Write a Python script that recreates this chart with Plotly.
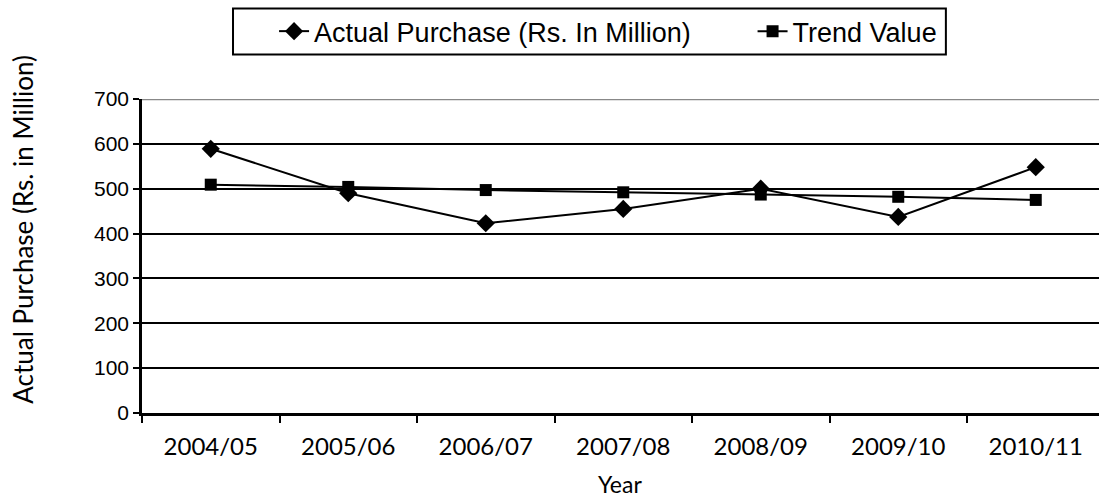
import plotly.graph_objects as go

years = ["2004/05", "2005/06", "2006/07", "2007/08", "2008/09", "2009/10", "2010/11"]
actual = [589, 490, 423, 455, 500, 437, 548]
trend = [509, 504, 497, 492, 487, 482, 475]

fig = go.Figure()
fig.add_trace(go.Scatter(
    x=years, y=actual, name="Actual Purchase (Rs. In Million)", mode="lines+markers",
    line=dict(color="black", width=2),
    marker=dict(symbol="diamond", size=14, color="black"),
    legend="legend",
))
fig.add_trace(go.Scatter(
    x=years, y=trend, name="Trend Value", mode="lines+markers",
    line=dict(color="black", width=2),
    marker=dict(symbol="square", size=12, color="black"),
    legend="legend2",
))

leg_common = dict(orientation="h", xanchor="left", yanchor="middle", y=1.2147,
                  bgcolor="rgba(0,0,0,0)", borderwidth=0,
                  font=dict(size=27, family="Liberation Sans, Arial"))

fig.update_layout(
    width=1099, height=498,
    margin=dict(l=142, r=0, t=99, b=85),
    paper_bgcolor="white", plot_bgcolor="white",
    font=dict(family="Liberation Sans, Arial", color="black"),
    showlegend=True,
    legend=dict(x=0.138, **leg_common),
    legend2=dict(x=0.638, **leg_common),
    xaxis=dict(
        type="category", range=[-0.5, 6.46],
        showgrid=False, showline=True, linecolor="black", linewidth=2.5,
        ticks="outside", tickson="boundaries", ticklen=7, tickcolor="black", tickwidth=2,
        tickfont=dict(family="Lato, Open Sans", size=24),
        ticklabelstandoff=10,
    ),
    yaxis=dict(
        range=[0, 700], dtick=100,
        showgrid=True, gridcolor="black", gridwidth=2,
        showline=True, linecolor="black", linewidth=2.5,
        ticks="outside", ticklen=6, tickcolor="black", tickwidth=2,
        tickfont=dict(family="Liberation Sans, Arial", size=21),
        zeroline=False,
    ),
    shapes=[
        dict(type="line", xref="paper", yref="y", x0=0, x1=1, y0=700, y1=700,
             line=dict(color="#888888", width=2.5)),
        dict(type="rect", xref="paper", yref="paper", x0=0.0951, x1=0.840,
             y0=1.1414, y1=1.288, line=dict(color="black", width=2),
             fillcolor="rgba(0,0,0,0)"),
    ],
    annotations=[
        dict(text="Actual Purchase (Rs. in Million)", xref="paper", yref="paper",
             x=-0.124, y=0.585, xanchor="center", yanchor="middle", textangle=-90,
             showarrow=False, font=dict(family="Lato, Open Sans", size=26)),
        dict(text="Year", xref="paper", yref="paper", x=0.4995, y=-0.2275,
             xanchor="center", yanchor="middle",
             showarrow=False, font=dict(family="Lato, Open Sans", size=23)),
    ],
)

fig.write_html("out.html")
